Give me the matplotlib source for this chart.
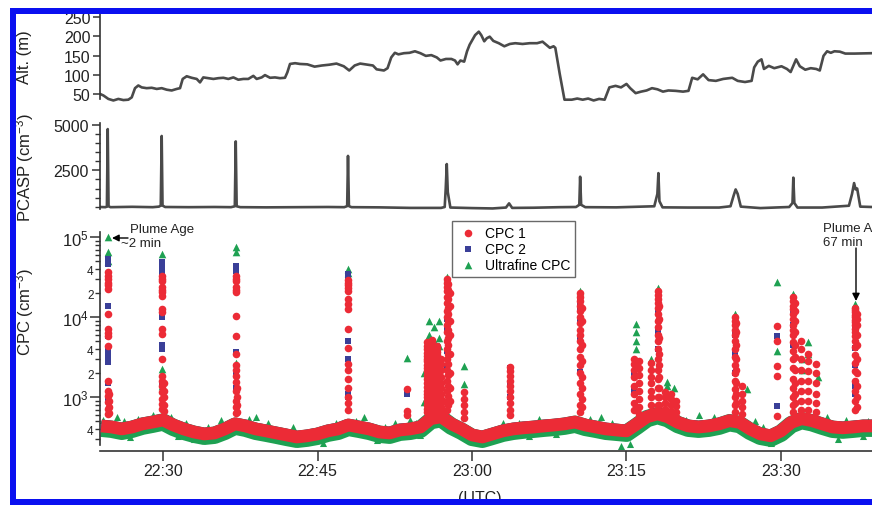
import numpy as np
import matplotlib
matplotlib.use("Agg")
import matplotlib.pyplot as plt
from matplotlib.ticker import FixedLocator, FixedFormatter, FuncFormatter, NullLocator
from matplotlib.patches import Rectangle, FancyArrowPatch

plt.rcParams['font.family'] = ['Liberation Sans', 'DejaVu Sans']
plt.rcParams['mathtext.fontset'] = 'custom'
plt.rcParams['mathtext.rm'] = 'Liberation Sans'
plt.rcParams['mathtext.it'] = 'Liberation Sans:italic'

# time in minutes after 22:30 UTC
tick_t = [0, 15, 30, 45, 60]
tick_labels = ['22:30', '22:45', '23:00', '23:15', '23:30']

# altitude (m)
alt_t = [-6.12, -5.79, -5.31, -4.82, -4.34, -3.85, -3.37, -3.04, -2.72, -2.40, -2.07, -1.59,
         -1.10, -0.61, -0.13, 0.36, 0.84, 1.33, 1.65, 1.91, 2.30, 2.78, 3.27, 3.59, 3.91,
         4.40, 4.89, 5.37, 5.86, 6.34, 6.83, 7.31, 7.80, 8.28, 8.77, 9.09, 9.58, 9.90,
         10.39, 10.87, 11.36, 11.84, 12.07, 12.33, 12.82, 13.30, 14.01, 14.72, 15.43,
         16.13, 16.84, 17.55, 18.08, 18.61, 19.14, 19.85, 20.38, 20.74, 21.45, 21.80,
         22.16, 22.51, 22.86, 23.39, 23.93, 24.46, 24.99, 25.52, 26.05, 26.58, 26.94,
         27.47, 28.00, 28.35, 28.60, 28.88, 29.24, 29.52, 29.77, 30.02, 30.30, 30.66,
         30.90, 31.19, 31.44, 31.72, 32.07, 32.60, 33.14, 33.67, 34.20, 34.91, 35.61,
         36.32, 36.85, 37.21, 37.56, 37.92, 38.09, 38.52, 38.98, 39.69, 40.22, 40.75,
         41.28, 41.81, 42.34, 42.88, 43.34, 43.94, 44.47, 45.00, 45.36, 45.89, 46.42,
         46.95, 47.48, 48.01, 48.54, 49.07, 49.78, 50.49, 51.02, 51.38, 51.91, 52.44,
         52.97, 53.68, 54.39, 55.27, 55.80, 56.51, 57.15, 57.40, 57.75, 58.11, 58.35,
         58.82, 59.35, 60.05, 60.58, 60.94, 61.47, 61.83, 62.36, 62.89, 63.42, 63.77,
         64.13, 64.48, 64.84, 65.19, 65.72, 66.25, 67.14, 68.84]
alt_m = [50, 46, 37, 33, 37, 34, 35, 41, 65, 72, 67, 65,
         66, 63, 65, 61, 59, 63, 65, 89, 96, 92, 89, 80, 93,
         91, 89, 91, 92, 89, 93, 87, 89, 89, 97, 89, 93, 99,
         92, 93, 91, 92, 106, 128, 130, 128, 127, 121, 124,
         126, 129, 122, 111, 124, 129, 126, 124, 114, 111, 117,
         145, 157, 153, 156, 157, 161, 156, 149, 151, 145, 137,
         141, 141, 137, 127, 137, 134, 161, 178, 190, 203, 212,
         203, 187, 195, 199, 188, 182, 174, 180, 182, 180, 182,
         182, 186, 178, 170, 174, 170, 102, 35, 35, 38, 35,
         38, 33, 37, 35, 67, 71, 67, 76, 65, 52, 56,
         59, 65, 62, 56, 59, 58, 56, 58, 92, 88, 101,
         86, 84, 89, 92, 84, 81, 84, 119, 134, 140, 115,
         123, 117, 122, 115, 107, 140, 122, 113, 117, 115, 111,
         149, 161, 157, 161, 160, 155, 155, 156]

# PCASP (cm-3)
pcasp_t = [-6.12, -5.6, -5.45, -5.37, -5.29, -5.1, -3.0, -1.0, -0.4, -0.22, -0.13, -0.05,
           0.2, 2.5, 5.0, 6.6, 6.97, 7.06, 7.15, 7.5, 10.0, 13.0, 16.0, 17.6, 17.88,
           17.96, 18.05, 18.3, 21.0, 24.0, 27.0, 27.35, 27.45, 27.55, 27.65, 27.9,
           30.0, 32.0, 33.3, 33.6, 33.9, 36.0, 38.5, 40.1, 40.42, 40.5, 40.6, 41.0,
           44.0, 47.7, 48.0, 48.1, 48.2, 48.5, 51.0, 54.0, 55.1, 55.4, 55.6, 55.8,
           56.1, 58.0, 60.8, 61.12, 61.2, 61.3, 61.6, 64.0, 66.6, 66.9, 67.1, 67.25,
           67.4, 67.7, 68.84]
pcasp_v = [480, 470, 500, 4780, 520, 470, 490, 470, 500, 560, 4400, 560,
           480, 470, 480, 470, 520, 4100, 520, 470, 460, 470, 480, 470, 530,
           3300, 530, 470, 460, 430, 430, 480, 1500, 2850, 1300, 450,
           420, 400, 450, 680, 430, 440, 470, 480, 600, 2150, 600, 470,
           460, 520, 1200, 2350, 800, 460, 450, 450, 520, 1100, 1450, 1200,
           500, 420, 480, 700, 2100, 700, 450, 450, 550, 1200, 1800, 1450,
           1500, 500, 480]

# CPC background (1-min grid)
bg_t = np.arange(-6, 70, 1)
cpc1_bg = [438, 425, 402, 425, 465, 490, 520, 450, 402, 368, 348, 358, 402, 465, 438, 402,
           380, 358, 338, 319, 330, 348, 380, 402, 450, 425, 402, 368, 358, 390, 402, 425,
           540, 570, 465, 402, 338, 319, 348, 380, 402, 415, 425, 438, 450, 465, 490, 450,
           425, 402, 390, 380, 465, 570, 620, 570, 485, 438, 425, 438, 465, 510, 485, 402,
           348, 330, 380, 485, 540, 510, 465, 425, 415, 425, 438, 438]
cpc2_bg = [442, 428, 405, 428, 468, 493, 525, 453, 405, 370, 350, 360, 405, 468, 442, 405,
           383, 360, 340, 320, 332, 350, 383, 405, 453, 428, 405, 370, 360, 393, 405, 428,
           545, 575, 468, 405, 340, 320, 350, 383, 405, 418, 428, 442, 453, 468, 493, 453,
           428, 405, 393, 383, 468, 575, 625, 575, 488, 442, 428, 442, 468, 513, 488, 405,
           350, 332, 383, 488, 545, 513, 468, 428, 418, 428, 442, 442]
uf_bg = [410, 398, 375, 398, 435, 460, 490, 420, 375, 345, 325, 335, 375, 435, 410, 375,
         355, 335, 315, 298, 308, 325, 355, 375, 420, 398, 375, 345, 335, 365, 375, 398,
         510, 540, 435, 375, 315, 298, 325, 355, 375, 388, 398, 410, 420, 435, 460, 420,
         398, 375, 365, 355, 435, 540, 590, 540, 455, 410, 398, 410, 435, 480, 455, 375,
         325, 308, 355, 455, 510, 480, 435, 398, 388, 398, 410, 410]

# green points sticking out of the baseline band
uf_tuft_t = [-5.8, -4.5, -3.8, -3.2, -2.4, -1.0, 0.8, 1.5, 2.2, 3.0, 4.4, 5.6, 6.3, 8.3,
             9.0, 10.2, 11.5, 12.6, 14.0, 15.5, 16.8, 18.7, 19.5, 20.8, 21.6, 22.5,
             24.0, 24.6, 25.0, 29.6, 30.4, 31.0, 32.3, 33.0, 34.6, 35.5, 36.5, 37.4,
             38.2, 39.3, 41.5, 42.5, 43.6, 44.5, 45.3, 50.8, 51.6, 52.0, 53.5, 54.4,
             57.5, 58.3, 59.0, 60.2, 63.9, 64.5, 65.5, 66.3, 68.0, 68.5]
uf_tuft_v = [520, 570, 500, 320, 540, 600, 560, 330, 470, 300, 420, 520, 450, 540,
             560, 480, 290, 420, 300, 270, 480, 510, 565, 290, 430, 470,
             520, 480, 340, 330, 300, 285, 400, 470, 470, 330, 540, 480,
             350, 500, 540, 560, 470, 245, 261, 520, 470, 600, 560, 520,
             500, 420, 270, 480, 500, 560, 300, 520, 330, 500]

# CPC peak columns
cpc1_pk_t = [-5.37, -5.2, -0.13, 0.05, 7.06, 7.22, 17.99, 23.66, 25.6, 26.1, 26.6, 27.0,
             27.55, 27.7, 27.85, 29.2, 33.7, 40.5, 40.65, 45.7, 46.2, 47.4, 48.06, 48.2,
             48.7, 49.3, 49.8, 55.5, 55.65, 56.2, 59.6, 61.2, 61.35, 61.9, 62.6, 63.4,
             67.2, 67.35]
cpc1_pk_v = [
    [36600, 33000, 30000, 27000, 25000, 22600, 11000, 7100, 6300, 5800, 4420, 1610, 1210, 1050, 870, 720, 620],
    [1100, 900, 750, 640],
    [33000, 30000, 28000, 24000, 22000, 20500, 18500, 12700, 11600, 7100, 6200, 3000, 1850, 1600, 1380, 1170, 950, 820, 720],
    [1500, 1200, 1000, 800, 680],
    [33000, 30000, 28000, 24000, 22000, 20600, 10500, 5860, 3500, 2550, 2200, 1850, 1550, 1200, 900, 760, 640],
    [1300, 1000, 800, 650],
    [29000, 27000, 25000, 23000, 21000, 17000, 14500, 12700, 7150, 4160, 2600, 2200, 1700, 1300, 1000, 850, 700],
    [1270, 680, 600],
    [4900, 4400, 4000, 3600, 3300, 3000, 2800, 2500, 2300, 2100, 1900, 1700, 1500, 1350, 1200, 1100, 1000, 900, 800, 720, 650],
    [5200, 4700, 4300, 3900, 3600, 3300, 3000, 2700, 2500, 2200, 2000, 1850, 1700, 1550, 1400, 1250, 1100, 1000, 900, 800, 700, 600],
    [4400, 4000, 3700, 3400, 3100, 2800, 2600, 2300, 2100, 1850, 1600, 1450, 1300, 1150, 1000, 900, 800, 720, 650],
    [3000, 2600, 2200, 1800, 1500, 1300, 1100, 950, 850, 750, 700],
    [30000, 27000, 24000, 21000, 18000, 15000, 12000, 10000, 8000, 6500, 5000, 4000, 3000, 2200, 1600, 1200, 900, 700],
    [26000, 22000, 17000, 13000, 11000, 9000, 7000, 5500, 4500, 3500, 2600, 1900, 1400, 1050, 800],
    [20000, 14000, 9000, 6000, 3500, 2000, 1300, 900],
    [1160, 950, 800, 650, 550],
    [2390, 2100, 1850, 1600, 1400, 1200, 1000, 850, 700, 600],
    [20000, 18000, 16000, 14000, 12000, 10000, 8500, 7000, 6000, 5000, 4000, 3200, 2500, 2000, 1500, 1100, 800, 650],
    [13000, 9000, 4500, 2800, 1800, 1300, 950, 750],
    [3000, 2600, 2200, 1800, 1400, 1100, 850, 700],
    [2800, 2300, 1900, 1500, 1200, 950, 750, 620],
    [2700, 2200, 1800, 1500, 1200, 1000, 800, 650],
    [21000, 19000, 17000, 15000, 13000, 11000, 9000, 7500, 6000, 5000, 4000, 3000, 2200, 1700, 1300, 1000, 800],
    [14000, 9500, 5500, 3500, 2500, 1800, 1300, 1000, 800],
    [1170, 1000, 850, 720, 620],
    [1100, 950, 800, 680, 600],
    [900, 780, 650, 560],
    [10000, 9000, 8000, 7000, 6000, 5000, 4000, 3200, 2500, 2000, 1600, 1250, 1000, 800, 650],
    [8500, 6500, 4500, 3000, 2200, 1500, 1100, 850],
    [1400, 1100, 900, 750, 620],
    [7850, 5100, 2480, 1860, 590],
    [18000, 16000, 14000, 12500, 11000, 9500, 8000, 7000, 6000, 4900, 3800, 3000, 2300, 1700, 1300, 1000, 800, 650],
    [15000, 12000, 9000, 6500, 4500, 3200, 2200, 1500, 1100, 850],
    [5000, 4000, 3000, 2200, 1600, 1200, 900, 700],
    [3500, 2800, 2100, 1600, 1200, 900, 700],
    [2600, 2000, 1500, 1100, 850, 650],
    [13000, 12200, 11500, 10800, 10000, 9300, 8600, 7900, 7200, 6500, 5800, 5000, 4200, 3400, 2700, 2100, 1600, 1200, 900, 700],
    [11000, 9500, 8000, 6000, 4500, 3000, 2000, 1400, 1000, 750],
]
cpc2_pk_t = [-5.37, -0.13, 7.06, 17.99, 23.66, 26.1, 27.55, 33.7, 40.5, 45.7, 48.06, 55.5,
             59.6, 61.2, 67.2]
cpc2_pk_v = [
    [53700, 50000, 46000, 14000, 5800, 4000, 3600, 3300, 2750, 1500, 900],
    [49000, 44000, 38000, 33000, 10000, 4500, 4000, 1500],
    [44000, 41000, 38000, 3680, 2000, 1300],
    [35000, 32000, 5100, 3000, 1100, 1000],
    [1100, 1200],
    [2200, 1300],
    [9500, 7000, 3800, 2400],
    [2300, 1500, 1000],
    [15500, 13000, 9500, 5500, 2070],
    [2000, 1200],
    [12000, 6500, 4000],
    [6000, 3500, 2000],
    [5900, 785],
    [12000, 8000, 4500],
    [8000, 4160, 2500, 1380, 1100],
]
uf_pk_t = [-5.37, -0.13, 7.06, 17.99, 23.66, 25.3, 25.8, 26.3, 26.8, 27.55, 29.2, 40.5,
           45.9, 47.4, 48.06, 48.9, 49.6, 55.5, 56.7, 59.6, 61.2, 62.0, 62.6, 63.6, 67.2]
uf_pk_v = [
    [100000, 65000, 50000],
    [60800, 2260, 2000, 1400],
    [76000, 66000, 2700],
    [40000, 36000],
    [3100],
    [870, 2000],
    [9000, 6000, 4200],
    [7500, 5000, 3500],
    [9000, 5500, 4400],
    [31900],
    [2480, 1470],
    [21500],
    [8250, 6500, 5100, 4000],
    [3000, 2400],
    [23300],
    [1550, 1400],
    [1300],
    [11000],
    [1270],
    [27300, 3830],
    [19600],
    [3000, 2200],
    [4900, 3500],
    [1790],
    [14600],
]

red = '#ec2b36'
blue = '#3a3f98'
green = '#1ea152'
line_gray = '#4a4a4a'
axis_col = '#333333'
text_col = '#222222'

W, H = 872, 506
fig = plt.figure(figsize=(W / 100, H / 100), dpi=100)
fig.patch.set_facecolor('white')


def px_axes(x0, ytop, x1, ybot):
    return fig.add_axes([x0 / W, 1 - ybot / H, (x1 - x0) / W, (ybot - ytop) / H])


xmin, xmax = -6.12, 68.84

ax_alt = px_axes(100, 15, 872, 103)
ax_pc = px_axes(100, 123, 872, 212)
ax_cpc = px_axes(100, 233, 872, 452)

for ax in (ax_alt, ax_pc, ax_cpc):
    ax.set_xlim(xmin, xmax)
    ax.set_facecolor('none')
    for s in ('top', 'right'):
        ax.spines[s].set_visible(False)
    for s in ('left', 'bottom'):
        ax.spines[s].set_color(axis_col)
        ax.spines[s].set_linewidth(1.2)
    ax.tick_params(colors=axis_col, labelcolor=text_col, width=1.1)

# altitude panel
ax_alt.plot(alt_t, alt_m, color=line_gray, lw=1.9, solid_joinstyle='round')
ax_alt.set_ylim(29, 258)
ax_alt.spines['bottom'].set_visible(False)
ax_alt.spines['left'].set_bounds(37, 258)
ax_alt.set_xticks([])
ax_alt.set_yticks([50, 100, 150, 200, 250])
ax_alt.tick_params(axis='y', length=5, labelsize=11.5, pad=2)

# PCASP panel
ax_pc.plot(pcasp_t, pcasp_v, color=line_gray, lw=1.9, solid_joinstyle='round')
ax_pc.set_ylim(259, 5171)
ax_pc.spines['bottom'].set_visible(False)
ax_pc.spines['left'].set_bounds(370, 5120)
ax_pc.set_xticks([])
ax_pc.set_yticks([2500, 5000])
ax_pc.yaxis.set_minor_locator(FixedLocator([500, 1000, 1500, 2000, 3000, 3500, 4000, 4500]))
ax_pc.tick_params(axis='y', which='major', length=6, labelsize=11.5, pad=2)
ax_pc.tick_params(axis='y', which='minor', length=3.5, width=1.0, colors=axis_col)

# CPC panel
ax_cpc.set_yscale('log')
ax_cpc.set_ylim(213, 1.16e5)
ax_cpc.spines['left'].set_bounds(250, 1.16e5)

ax_cpc.plot(bg_t, uf_bg, color=green, lw=12.5, solid_capstyle='butt', zorder=2)
ax_cpc.plot(bg_t, cpc2_bg, color=blue, lw=8.6, solid_capstyle='butt', zorder=3)
ax_cpc.plot(bg_t, cpc1_bg, color=red, lw=9.2, solid_capstyle='butt', zorder=4)
ax_cpc.scatter(uf_tuft_t, uf_tuft_v, marker='^', s=26, color=green, linewidths=0, zorder=2)

for t, vals in zip(uf_pk_t, uf_pk_v):
    ax_cpc.scatter([t] * len(vals), vals, marker='^', s=30, color=green, linewidths=0, zorder=5)
for t, vals in zip(cpc2_pk_t, cpc2_pk_v):
    ax_cpc.scatter([t] * len(vals), vals, marker='s', s=22, color=blue, linewidths=0, zorder=6)
for t, vals in zip(cpc1_pk_t, cpc1_pk_v):
    ax_cpc.scatter([t] * len(vals), vals, marker='o', s=30, color=red, linewidths=0, zorder=7)


def minor_label(v, pos):
    m = int(round(v / 10 ** np.floor(np.log10(v) + 1e-9)))
    return str(m) if m in (2, 4) else ''


ax_cpc.yaxis.set_major_locator(FixedLocator([1e3, 1e4, 1e5]))
ax_cpc.yaxis.set_major_formatter(FixedFormatter(['$10^3$', '$10^4$', '$10^5$']))
ax_cpc.yaxis.set_minor_locator(FixedLocator([k * 10.0 ** d for d in (2, 3, 4) for k in range(2, 10)]))
ax_cpc.yaxis.set_minor_formatter(FuncFormatter(minor_label))
ax_cpc.tick_params(axis='y', which='major', length=7, labelsize=12, pad=1)
ax_cpc.tick_params(axis='y', which='minor', length=3.5, width=1.0, labelsize=8.5, pad=1,
                   colors=axis_col, labelcolor=text_col)

ax_cpc.xaxis.set_major_locator(FixedLocator(tick_t))
ax_cpc.xaxis.set_major_formatter(FixedFormatter(tick_labels))
ax_cpc.xaxis.set_minor_locator(NullLocator())
ax_cpc.tick_params(axis='x', length=7, labelsize=11.5, pad=2)
fig.text(480 / W, 1 - 499 / H, '(UTC)', fontsize=11.5, ha='center', va='center', color=text_col)

# legend
h1 = ax_cpc.scatter([], [], marker='o', s=30, color=red, linewidths=0)
h2 = ax_cpc.scatter([], [], marker='s', s=22, color=blue, linewidths=0)
h3 = ax_cpc.scatter([], [], marker='^', s=30, color=green, linewidths=0)
leg = fig.legend([h1, h2, h3], ['CPC 1', 'CPC 2', 'Ultrafine CPC'],
                 loc='upper left', bbox_to_anchor=(452 / W, 1 - 222 / H),
                 frameon=True, fancybox=False, fontsize=10, handletextpad=0.4,
                 borderpad=0.35, labelspacing=0.15, handlelength=1.6, borderaxespad=0)
leg.get_frame().set_edgecolor('#444444')
leg.get_frame().set_linewidth(1.0)

# plume age annotations
fig.add_artist(FancyArrowPatch(
    (128 / W, 1 - 239 / H), (112 / W, 1 - 239 / H), transform=fig.transFigure,
    arrowstyle='-|>', mutation_scale=10, color='black', lw=1.0, shrinkA=0, shrinkB=0))
fig.text(130 / W, 1 - 230 / H, 'Plume Age', fontsize=9.5, va='center', ha='left', color=text_col)
fig.text(121 / W, 1 - 244 / H, '~2 min', fontsize=9.5, va='center', ha='left', color=text_col)
fig.text(823 / W, 1 - 229 / H, 'Plume Age', fontsize=9.5, va='center', ha='left', color=text_col)
fig.text(823 / W, 1 - 243 / H, '67 min', fontsize=9.5, va='center', ha='left', color=text_col)
fig.add_artist(FancyArrowPatch(
    (856 / W, 1 - 249 / H), (856 / W, 1 - 302 / H), transform=fig.transFigure,
    arrowstyle='-|>', mutation_scale=11, color='black', lw=1.0, shrinkA=0, shrinkB=0))

# y labels
fig.text(25 / W, 1 - 57 / H, 'Alt. (m)', rotation=90, fontsize=12, ha='center', va='center', color=text_col)
fig.text(25 / W, 1 - 167 / H, 'PCASP (cm$^{-3}$)', rotation=90, fontsize=12, ha='center', va='center', color=text_col)
fig.text(25 / W, 1 - 312 / H, 'CPC (cm$^{-3}$)', rotation=90, fontsize=12, ha='center', va='center', color=text_col)

# blue frame of the screenshot
frame_col = '#0a10f0'
for (x0, y0, w, h) in [(10, 9, 6, 497), (10, 9, 862, 6), (10, 500, 862, 6)]:
    fig.add_artist(Rectangle((x0 / W, 1 - (y0 + h) / H), w / W, h / H, transform=fig.transFigure,
                             facecolor=frame_col, edgecolor='none', zorder=20))

fig.savefig('out.png', dpi=100)
